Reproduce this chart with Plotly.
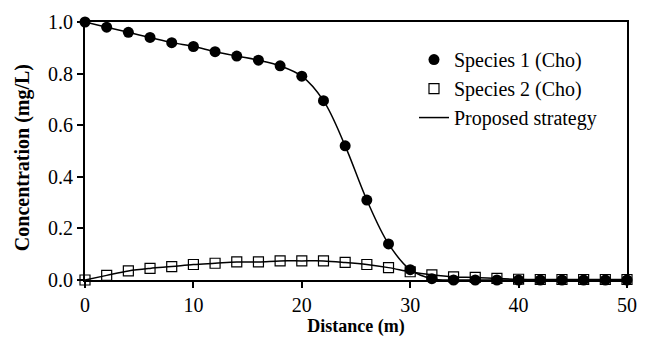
import plotly.graph_objects as go

distance = [0, 2, 4, 6, 8, 10, 12, 14, 16, 18, 20, 22, 24, 26, 28, 30, 32, 34, 36, 38, 40, 42, 44, 46, 48, 50]
species1 = [1.0, 0.98, 0.96, 0.94, 0.92, 0.905, 0.885, 0.868, 0.852, 0.83, 0.79, 0.695, 0.52, 0.31, 0.14, 0.04,
            0.005, 0.0, 0.0, 0.0, 0.0, 0.0, 0.0, 0.0, 0.0, 0.0]
species2 = [0.0, 0.018, 0.035, 0.045, 0.052, 0.06, 0.065, 0.07, 0.07, 0.074, 0.074, 0.074, 0.068, 0.06, 0.048,
            0.032, 0.02, 0.012, 0.01, 0.006, 0.003, 0.002, 0.002, 0.002, 0.002, 0.002]
x_ticks = [0, 10, 20, 30, 40, 50]
y_ticks = [0, 0.2, 0.4, 0.6, 0.8, 1.0]

font = "Liberation Serif"
fig = go.Figure()
fig.add_trace(go.Scatter(x=distance, y=species1, mode="lines", line=dict(color="black", width=1.5, shape="spline"),
                         name="Proposed strategy", legendrank=3))
fig.add_trace(go.Scatter(x=distance, y=species2, mode="lines", line=dict(color="black", width=1.5, shape="spline"),
                         showlegend=False))
fig.add_trace(go.Scatter(x=distance, y=species1, mode="markers", name="Species 1 (Cho)", legendrank=1,
                         marker=dict(symbol="circle", size=11, color="black")))
fig.add_trace(go.Scatter(x=distance, y=species2, mode="markers", name="Species 2 (Cho)", legendrank=2,
                         marker=dict(symbol="square-open", size=10, color="black", line=dict(width=1.2))))

fig.update_layout(
    width=633, height=329,
    margin=dict(l=77, r=14, t=14, b=57),
    plot_bgcolor="white", paper_bgcolor="white",
    font=dict(family=font, size=20, color="black"),
    legend=dict(x=0.607, y=0.93, xanchor="left", yanchor="top", bgcolor="rgba(0,0,0,0)",
                font=dict(family=font, size=20), tracegroupgap=0, itemwidth=30),
    xaxis=dict(range=[0, 50], tickvals=x_ticks, showgrid=False, zeroline=False, automargin=False,
               showline=True, mirror=True, linecolor="black", linewidth=2, ticks="outside", ticklen=6,
               tickwidth=1.5, tickcolor="black", tickfont=dict(size=20),
               title=dict(text="<b>Distance (m)</b>", font=dict(size=18), standoff=8)),
    yaxis=dict(range=[0, 1.0], tickvals=y_ticks, tickformat=".1f", showgrid=False, automargin=False,
               zeroline=False, showline=True, mirror=True, linecolor="black", linewidth=2, ticks="outside",
               ticklen=6, tickwidth=1.5, tickcolor="black", tickfont=dict(size=20)),
    annotations=[
        dict(text="<b>Concentration (mg/L)</b>", xref="paper", yref="paper", x=-0.114, y=0.473,
             textangle=-90, showarrow=False, font=dict(family=font, size=20), xanchor="center", yanchor="middle"),
    ],
)
fig.update_traces(cliponaxis=False)
fig.write_html("out.html")
